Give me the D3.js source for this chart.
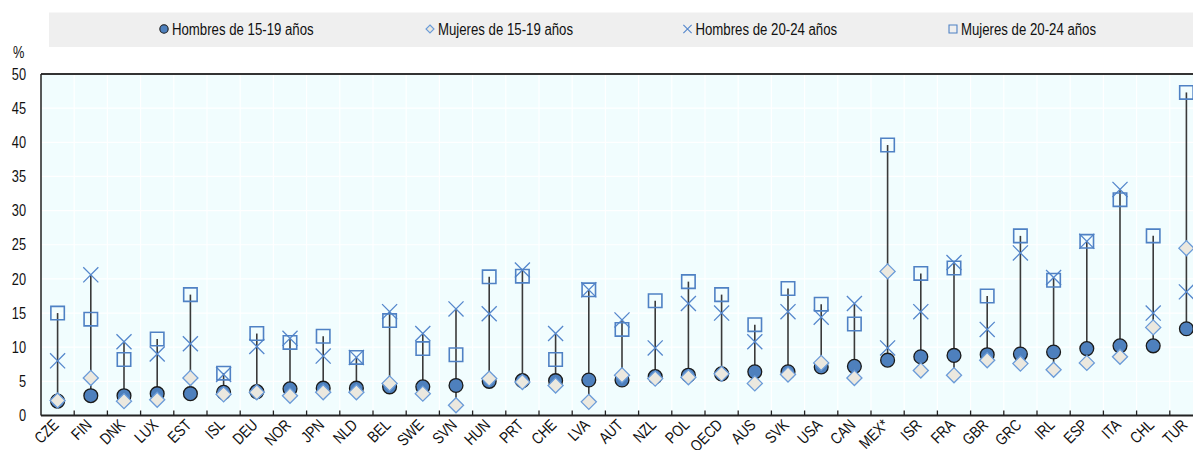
<!DOCTYPE html>
<html>
<head>
<meta charset="utf-8">
<script src="https://cdn.jsdelivr.net/npm/d3@7"></script>
<style>
body { margin: 0; background: #fff; }
text { font-family: "Liberation Sans Narrow", "Arial Narrow", "Liberation Sans", Arial, sans-serif; fill: #111; }
</style>
</head>
<body>
<div id="chart"></div>
<script>

var width = 1193;
var height = 450;

// values (%)
var countries = ["CZE", "FIN", "DNK", "LUX", "EST", "ISL", "DEU", "NOR", "JPN", "NLD",
                 "BEL", "SWE", "SVN", "HUN", "PRT", "CHE", "LVA", "AUT", "NZL", "POL",
                 "OECD", "AUS", "SVK", "USA", "CAN", "MEX*", "ISR", "FRA", "GBR", "GRC",
                 "IRL", "ESP", "ITA", "CHL", "TUR"];
var men1519   = [2.1, 2.9, 2.9, 3.2, 3.2, 3.4, 3.5, 3.9, 4.0, 4.0,
                 4.2, 4.2, 4.4, 5.0, 5.1, 5.1, 5.2, 5.2, 5.7, 5.9,
                 6.1, 6.4, 6.4, 7.1, 7.2, 8.1, 8.6, 8.8, 8.9, 9.0,
                 9.3, 9.8, 10.2, 10.2, 12.7];
var women1519 = [2.2, 5.5, 2.1, 2.3, 5.5, 3.1, 3.4, 2.9, 3.4, 3.4,
                 4.7, 3.2, 1.5, 5.4, 4.9, 4.4, 2.0, 5.9, 5.4, 5.6,
                 6.1, 4.7, 6.0, 7.7, 5.5, 21.1, 6.6, 5.9, 8.1, 7.6,
                 6.7, 7.7, 8.6, 12.9, 24.5];
var men2024   = [8.0, 20.6, 10.8, 9.0, 10.5, 6.0, 10.1, 11.3, 8.7, 8.5,
                 15.2, 12.0, 15.6, 14.9, 21.3, 12.0, 18.4, 14.0, 9.9, 16.4,
                 15.0, 10.8, 15.2, 14.4, 16.4, 9.9, 15.2, 22.4, 12.6, 23.8,
                 20.2, 25.5, 33.1, 15.0, 18.1];
var women2024 = [15.0, 14.1, 8.2, 11.2, 17.7, 6.2, 12.0, 10.7, 11.6, 8.5,
                 13.9, 9.8, 8.9, 20.3, 20.4, 8.2, 18.4, 12.6, 16.8, 19.6,
                 17.7, 13.3, 18.6, 16.3, 13.4, 39.6, 20.8, 21.6, 17.5, 26.3,
                 19.8, 25.5, 31.6, 26.3, 47.3];
var yTicks = [0, 5, 10, 15, 20, 25, 30, 35, 40, 45, 50];

var series = [
    { label: "Hombres de 15-19 años", values: men1519,   type: d3.symbolCircle,   size: 150, fill: "#4e80bd", stroke: "#1a1a1a", sw: 1.3, lsize: 55 },
    { label: "Mujeres de 15-19 años", values: women1519, type: d3.symbolDiamond2, size: 145, fill: "#ebe8df", stroke: "#6a9bd8", sw: 1.3, lsize: 41 },
    { label: "Hombres de 20-24 años", values: men2024,   type: d3.symbolX,        size: 150, fill: "none",    stroke: "#5587cc", sw: 1.3, lsize: 46 },
    { label: "Mujeres de 20-24 años", values: women2024, type: d3.symbolSquare2,  size: 230, fill: "none",    stroke: "#4f81c4", sw: 1.6, lsize: 81 }
];

var plotLeft = 41, plotTop = 74, plotBottom = 415.5;
var band = 33.2;

var x = d3.scaleBand().domain(countries).range([plotLeft, plotLeft + band * countries.length]);
var y = d3.scaleLinear().domain([0, 50]).range([plotBottom, plotTop]);

// squeeze text to look like a narrow face (no Arial Narrow installed)
function narrow(sel, k) {
    sel.each(function() {
        var w = this.getComputedTextLength();
        d3.select(this)
          .attr("textLength", w * k)
          .attr("lengthAdjust", "spacingAndGlyphs");
    });
}

var svg = d3.select("#chart").append("svg")
            .attr("width", width)
            .attr("height", height);

// legend band
var legend = svg.append("g");
legend.append("rect")
      .attr("x", 49).attr("y", 12.5)
      .attr("width", width - 49).attr("height", 34.5)
      .style("fill", "#efefef");
var legendX = [164, 430, 687.5, 953];
series.forEach(function(s, i) {
    legend.append("path")
          .attr("transform", "translate(" + legendX[i] + ",29)")
          .attr("d", d3.symbol().type(s.type).size(s.lsize)())
          .style("fill", s.fill)
          .style("stroke", s.stroke)
          .style("stroke-width", 1.1);
    legend.append("text")
          .attr("x", legendX[i] + 8)
          .attr("y", 34.5)
          .style("font-size", "16px")
          .text(s.label)
          .call(narrow, 0.825);
});

// plot background + grid
svg.append("rect")
   .attr("x", plotLeft).attr("y", plotTop)
   .attr("width", width - plotLeft).attr("height", plotBottom - plotTop)
   .style("fill", "#f1fdfe");

svg.append("g").selectAll("line")
   .data(yTicks.slice(1, -1))
   .enter().append("line")
       .attr("x1", plotLeft).attr("x2", width)
       .attr("y1", function(d) { return y(d); })
       .attr("y2", function(d) { return y(d); })
       .style("stroke", "#fff")
       .style("stroke-width", 1.2);

svg.append("g").selectAll("line")
   .data(countries.slice(1))
   .enter().append("line")
       .attr("x1", function(d) { return x(d); })
       .attr("x2", function(d) { return x(d); })
       .attr("y1", plotTop).attr("y2", plotBottom)
       .style("stroke", "#fff")
       .style("stroke-width", 1.2);

// axes
var yAxis = svg.append("g")
               .attr("transform", "translate(" + plotLeft + ",0)")
               .call(d3.axisLeft(y).tickValues(yTicks).tickSize(0).tickPadding(15));
yAxis.select(".domain").remove();
yAxis.selectAll("text")
     .style("font-size", "16px")
     .style("font-family", null)
     .style("fill", "#111")
     .call(narrow, 0.8);

svg.append("text")
   .attr("x", 13).attr("y", 58)
   .style("font-size", "16px")
   .text("%")
   .call(narrow, 0.8);

svg.append("line")
   .attr("x1", plotLeft).attr("x2", width)
   .attr("y1", plotTop).attr("y2", plotTop)
   .style("stroke", "#333").style("stroke-width", 2);
svg.append("line")
   .attr("x1", plotLeft).attr("x2", width)
   .attr("y1", plotBottom).attr("y2", plotBottom)
   .style("stroke", "#222").style("stroke-width", 2);
svg.append("line")
   .attr("x1", plotLeft).attr("x2", plotLeft)
   .attr("y1", plotTop).attr("y2", plotBottom)
   .style("stroke", "#222").style("stroke-width", 1.5);

// bottom ticks between categories
svg.append("g").selectAll("line")
   .data(countries.slice(1))
   .enter().append("line")
       .attr("x1", function(d) { return x(d); })
       .attr("x2", function(d) { return x(d); })
       .attr("y1", plotBottom - 5).attr("y2", plotBottom)
       .style("stroke", "#222")
       .style("stroke-width", 1.3);

// rotated country labels; squeezed with a scale (textLength drops the rotation here)
svg.append("g").selectAll("text")
   .data(countries)
   .enter().append("text")
       .attr("transform", function(d) {
           return "translate(" + (x(d) + x.bandwidth() / 2 - 2) + ",422) rotate(-45) scale(0.82,1)";
       })
       .attr("text-anchor", "end")
       .attr("dy", "0.35em")
       .style("font-size", "16px")
       .text(function(d) { return d; });

// range lines
var rows = countries.map(function(c, i) {
    var v = series.map(function(s) { return s.values[i]; });
    return { country: c, lo: d3.min(v), hi: d3.max(v) };
});

svg.append("g").selectAll("line")
   .data(rows)
   .enter().append("line")
       .attr("x1", function(d) { return x(d.country) + x.bandwidth() / 2; })
       .attr("x2", function(d) { return x(d.country) + x.bandwidth() / 2; })
       .attr("y1", function(d) { return y(d.lo); })
       .attr("y2", function(d) { return y(d.hi); })
       .style("stroke", "#3a3a3a")
       .style("stroke-width", 1.6);

// markers
series.forEach(function(s) {
    svg.append("g").selectAll("path")
       .data(countries)
       .enter().append("path")
           .attr("transform", function(d, i) {
               return "translate(" + (x(d) + x.bandwidth() / 2) + "," + y(s.values[i]) + ")";
           })
           .attr("d", d3.symbol().type(s.type).size(s.size)())
           .style("fill", s.fill)
           .style("stroke", s.stroke)
           .style("stroke-width", s.sw);
});

</script>
</body>
</html>
